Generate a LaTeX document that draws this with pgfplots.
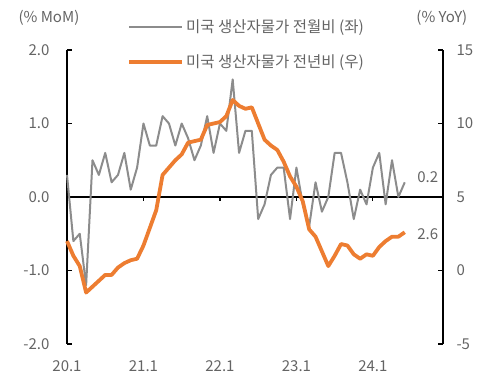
\documentclass[border=0pt]{standalone}
\usepackage{pgfplots}
\pgfplotsset{compat=1.18}
\usepackage{fontspec}
\setmainfont{Noto Sans CJK KR}
\definecolor{ogr}{RGB}{237,125,49}
\definecolor{lgr}{RGB}{140,140,140}
\definecolor{txt}{RGB}{100,100,100}

\pgfplotstableread{
i v
0 0.3
1 -0.6
2 -0.5
3 -1.2
4 0.5
5 0.3
6 0.6
7 0.2
8 0.3
9 0.6
10 0.1
11 0.4
12 1.0
13 0.7
14 0.7
15 1.1
16 1.0
17 0.7
18 1.0
19 0.8
20 0.5
21 0.7
22 1.1
23 0.6
24 1.0
25 0.9
26 1.6
27 0.6
28 0.9
29 0.9
30 -0.3
31 -0.1
32 0.3
33 0.4
34 0.4
35 -0.3
36 0.4
37 -0.1
38 -0.4
39 0.2
40 -0.2
41 0.0
42 0.6
43 0.6
44 0.2
45 -0.3
46 0.1
47 -0.1
48 0.4
49 0.6
50 -0.1
51 0.5
52 0.0
53 0.2
}\mom

\pgfplotstableread{
i v
0 2.0
1 1.0
2 0.3
3 -1.5
4 -1.1
5 -0.7
6 -0.3
7 -0.3
8 0.2
9 0.5
10 0.7
11 0.8
12 1.7
13 2.9
14 4.1
15 6.5
16 7.0
17 7.5
18 7.9
19 8.7
20 8.8
21 8.9
22 9.9
23 10.0
24 10.1
25 10.5
26 11.6
27 11.2
28 11.0
29 11.1
30 10.0
31 8.9
32 8.5
33 8.2
34 7.4
35 6.4
36 5.7
37 4.7
38 2.8
39 2.3
40 1.3
41 0.3
42 1.0
43 1.8
44 1.7
45 1.1
46 0.8
47 1.1
48 1.0
49 1.6
50 2.0
51 2.3
52 2.3
53 2.6
}\yoy

\begin{document}
\begin{tikzpicture}
\path[use as bounding box] (-67pt,-38pt) rectangle (426pt,344pt);
\pgfplotsset{
  base/.style={
    at={(0,0)}, anchor=south west,
    scale only axis, width=376pt, height=294pt,
    xmin=0, xmax=59,
    font=\fontsize{15}{17}\selectfont,
    tick label style={text=txt, font=\fontsize{15}{17}\selectfont},
    /pgf/number format/assume math mode=true,
    tick align=inside,
    major tick length=5pt,
    every tick/.style={black, line width=1.2pt},
    axis line style={black, line width=1.2pt},
    clip=false,
  }
}
\begin{axis}[base,
  ymin=-2, ymax=2, ytick={-2,-1,0,1,2},
  yticklabels={-2.0,-1.0,0.0,1.0,2.0},
  axis y line*=left,
  axis x line*=bottom,
  x axis line style={draw=none},
  xtick={0,12,24,36,48},
  xticklabels={20.1,21.1,22.1,23.1,24.1},
  x tick style={draw=none},
  yticklabel style={xshift=-14pt},
  xticklabel style={yshift=-13pt},
]
\draw[black, line width=1.2pt] (axis cs:0,0) -- (axis cs:59,0);
\pgfplotsinvokeforeach{12,24,36,48}{\draw[black,line width=1.2pt] (axis cs:#1,0) -- ([yshift=-4pt]axis cs:#1,0);}
\addplot[lgr, line width=2pt, line join=round] table[x=i,y=v] {\mom};
\node[text=txt] at (axis cs:56.6,0.27) {0.2};
\node[text=txt] at (axis cs:56.6,-0.5) {2.6};
\node[text=txt] at (rel axis cs:-0.048,1.109) {(\% MoM)};
\end{axis}
\begin{axis}[base,
  ymin=-5, ymax=15, ytick={-5,0,5,10,15},
  axis y line*=right, axis x line=none,
  yticklabel style={xshift=10pt},
  legend style={at={(0.16,1.109)}, anchor=north west, draw=none, fill=none,
    inner sep=0pt, row sep=16pt, font=\fontsize{15.5}{17}\selectfont, text=txt},
  legend cell align=left,
  legend image code/.code={\draw[#1] (0pt,0pt) -- (53pt,0pt);},
]
\addlegendimage{lgr, line width=2pt}
\addlegendentry{미국 생산자물가 전월비 (좌)}
\addplot[ogr, line width=3.8pt, line join=round] table[x=i,y=v] {\yoy};
\addlegendentry{미국 생산자물가 전년비 (우)}
\node[text=txt] at (rel axis cs:0.997,1.109) {(\% YoY)};
\end{axis}
\end{tikzpicture}
\end{document}
